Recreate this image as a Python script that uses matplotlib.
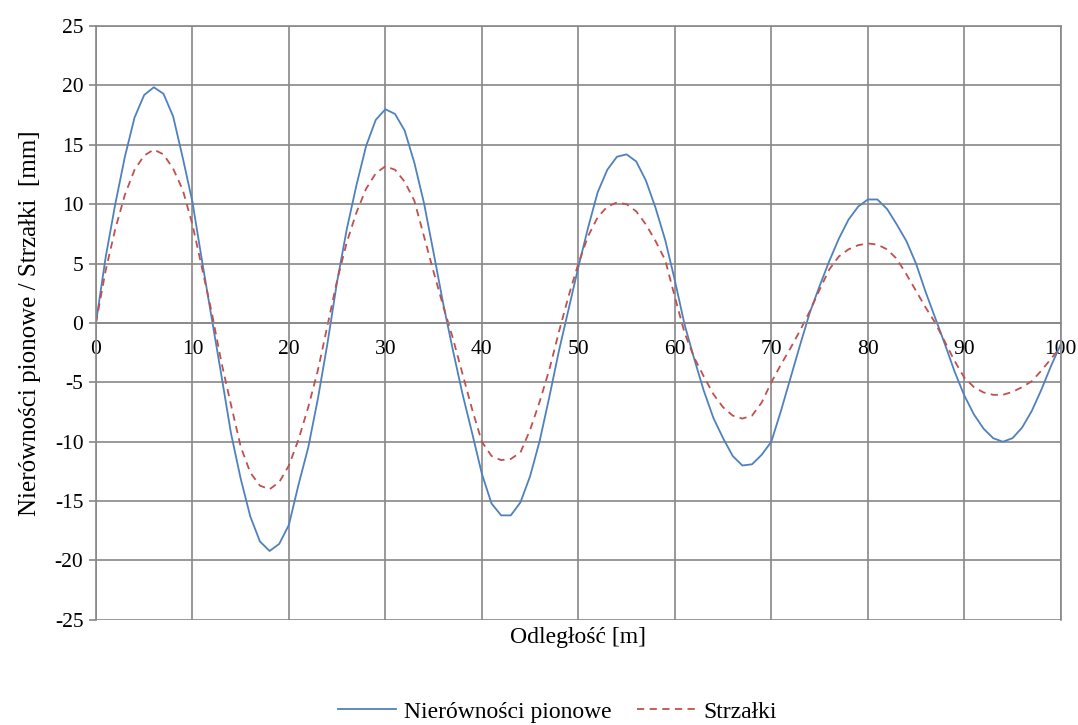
import numpy as np
import matplotlib
matplotlib.use("Agg")
import matplotlib.pyplot as plt

plt.rcParams['font.family'] = ['Liberation Serif', 'DejaVu Serif']
plt.rcParams['axes.unicode_minus'] = False

# odleglosc [m], co 1 m
x = list(range(0, 101))

# Nierownosci pionowe [mm]
nierownosci = [
    0.0, 5.5, 10.0, 14.0, 17.3, 19.2, 19.85, 19.3, 17.4, 13.9,
    10.2, 5.2, 0.4, -4.4, -9.3, -13.1, -16.3, -18.4, -19.2, -18.6,
    -17.0, -13.6, -10.5, -6.4, -1.7, 3.5, 7.9, 11.6, 14.9, 17.1,
    18.0, 17.6, 16.2, 13.5, 10.1, 5.9, 1.6, -2.3, -6.0, -9.3,
    -12.7, -15.2, -16.2, -16.2, -15.1, -12.9, -9.9, -6.2, -2.3, 1.2,
    4.7, 8.0, 11.0, 12.9, 14.0, 14.2, 13.6, 12.0, 9.7, 7.0,
    3.6, -0.1, -3.0, -5.7, -8.0, -9.7, -11.2, -12.0, -11.9, -11.1,
    -10.0, -7.4, -4.6, -1.8, 0.9, 3.1, 5.2, 7.1, 8.7, 9.8,
    10.4, 10.4, 9.6, 8.3, 6.9, 5.0, 2.6, 0.4, -1.8, -4.1,
    -6.1, -7.7, -8.9, -9.7, -10.0, -9.7, -8.8, -7.4, -5.6, -3.6,
    -1.8,
]

# Strzalki [mm]
strzalki = [
    0.0, 4.4, 7.9, 10.8, 12.9, 14.1, 14.6, 14.2, 13.0, 11.2,
    8.3, 4.6, 0.9, -3.3, -6.9, -10.4, -12.6, -13.7, -14.0, -13.4,
    -12.0, -9.8, -7.1, -4.0, -0.2, 3.6, 6.8, 9.3, 11.3, 12.6,
    13.2, 12.9, 11.9, 10.3, 7.3, 4.3, 1.4, -1.3, -4.3, -7.3,
    -10.0, -11.2, -11.55, -11.45, -10.9, -9.0, -6.6, -3.9, -0.7, 2.3,
    5.0, 7.3, 8.9, 9.8, 10.15, 10.0, 9.4, 8.3, 6.9, 5.3,
    2.2, -0.8, -2.9, -4.5, -6.0, -7.1, -7.8, -8.05, -7.8, -6.7,
    -5.0, -3.5, -2.1, -0.6, 1.0, 2.8, 4.5, 5.6, 6.2, 6.55,
    6.7, 6.6, 6.2, 5.4, 4.1, 2.7, 1.3, 0.0, -1.6, -3.2,
    -4.6, -5.4, -5.85, -6.05, -6.05, -5.8, -5.4, -4.9, -4.0, -3.0,
    -2.0,
]

x_ticks = list(range(0, 101, 10))
y_ticks = list(range(-25, 26, 5))

grid_col = "#888888"

fig = plt.figure(figsize=(10.78, 7.25), dpi=100)
ax = fig.add_axes([0.089, 0.145, 0.895, 0.819])

ax.plot(x, nierownosci, color="#4F81BD", lw=1.3, label="Nierówności pionowe",
        solid_joinstyle="round")
ax.plot(x, strzalki, color="#C0504D", lw=1.3, ls=(0, (4, 3)), label="Strzałki")

ax.set_xlim(0, 100)
ax.set_ylim(-25, 25)
ax.set_xticks(x_ticks)
ax.set_yticks(y_ticks)
ax.grid(True, color=grid_col, lw=1.2)
ax.set_axisbelow(True)

for s in ["top", "right", "left"]:
    ax.spines[s].set_color(grid_col)
    ax.spines[s].set_linewidth(1.2)
ax.spines["bottom"].set_position(("data", 0))
ax.spines["bottom"].set_color(grid_col)
ax.spines["bottom"].set_linewidth(1.2)

ax.tick_params(axis="x", length=0, pad=12, labelsize=15.5)
ax.tick_params(axis="y", length=5, color=grid_col, width=1.2, pad=4, labelsize=15.5)

ax.set_ylabel("Nierówności pionowe / Strzałki  [mm]", fontsize=18, labelpad=10)
fig.text(0.536, 0.12, "Odległość [m]", ha="center", va="center", fontsize=17)

fig.legend(loc="center", bbox_to_anchor=(0.517, 0.018), ncol=2, frameon=False,
           fontsize=17, handlelength=2.45, columnspacing=1.05, handletextpad=0.35)

fig.savefig("out.png", dpi=100)
